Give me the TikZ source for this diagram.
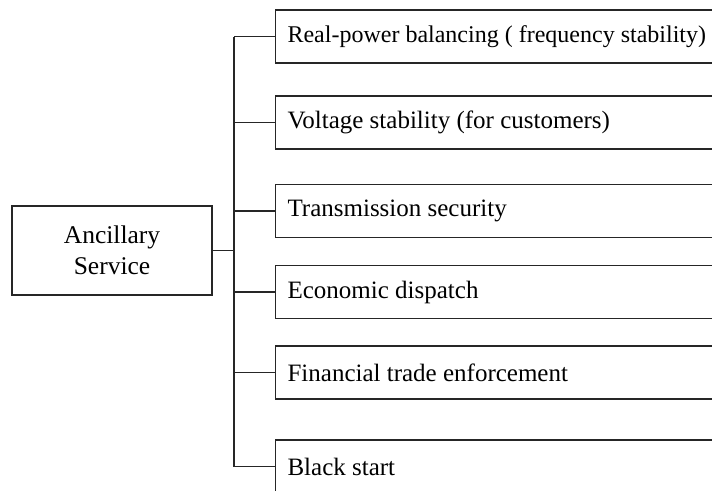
\documentclass[tikz,border=0pt]{standalone}
\usepackage{fontspec}
\setmainfont{Liberation Serif}
\begin{document}
\begin{tikzpicture}[x=1pt,y=-1pt,line width=1.1pt]
        \tikzset{
            item/.style={draw=black!85,rectangle,anchor=west,minimum height=53pt,
                text width=460pt,inner xsep=12pt,align=flush left,font=\fontsize{25}{30}\selectfont},
            link/.style={draw=black!85}
        }
        \useasboundingbox (0,0) rectangle (712,490);

            \node[draw=black!85,rectangle,minimum width=200pt,minimum height=89pt,align=center,
                font=\fontsize{25.5}{31}\selectfont] (anc) at (112,250.5) { Ancillary\\Service };

            \node[item,font=\fontsize{24}{30}\selectfont] (s1) at (275, 36.5) { Real-power balancing ( frequency stability) };
            \node[item] (s2) at (275, 122.5) { Voltage stability (for customers) };
            \node[item] (s3) at (275, 211) { Transmission security };
            \node[item] (s4) at (275, 292) { Economic dispatch };
            \node[item] (s5) at (275, 372.5) { Financial trade enforcement };
            \node[item] (s6) at (275, 466.5) { Black start };

            \coordinate (bus) at (234, 0);

            \draw[link] (anc.east) -- (anc.east -| bus);
            \draw[link] (s1.west -| bus) -- (s6.west -| bus);
            \foreach \s in {s1,s2,s3,s4,s5,s6}
                \draw[link] (\s.west -| bus) -- (\s.west);

        \end{tikzpicture}
\end{document}
